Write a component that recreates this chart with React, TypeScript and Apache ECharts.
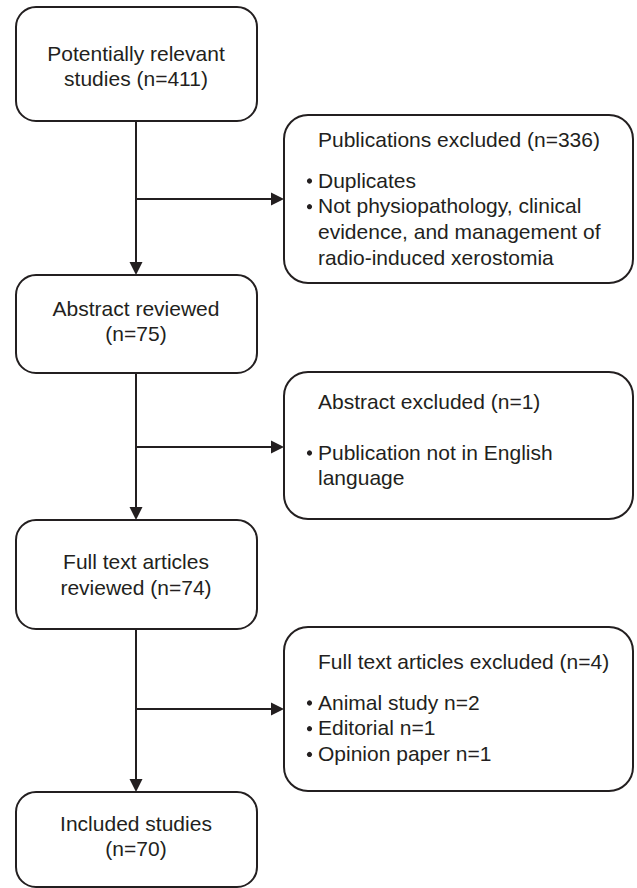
import React, { useEffect, useRef } from "react";
import * as echarts from "echarts";

// ---- content ----
const stepLines: string[][] = [
  ["Potentially relevant", "studies (n=411)"],
  ["Abstract reviewed", "(n=75)"],
  ["Full text articles", "reviewed (n=74)"],
  ["Included studies", "(n=70)"],
];

const exclusionTitles: string[] = [
  "Publications excluded (n=336)",
  "Abstract excluded (n=1)",
  "Full text articles excluded (n=4)",
];

const exclusionBullets: string[][][] = [
  [["Duplicates"], ["Not physiopathology, clinical", "evidence, and management of", "radio-induced xerostomia"]],
  [["Publication not in English", "language"]],
  [["Animal study n=2"], ["Editorial n=1"], ["Opinion paper n=1"]],
];

// ---- layout ----
const INK = "#231f20";
const FONT = "21px 'Liberation Sans', Arial, sans-serif";
const LEFT_X = 16;
const LEFT_W = 241;
const MID_X = 136;
const RIGHT_X = 284;
const RIGHT_W = 349;
const leftBoxes = [
  { y0: 7, y1: 121, lineY: [53, 78] },
  { y0: 275, y1: 373, lineY: [308, 333] },
  { y0: 520, y1: 629, lineY: [561, 587] },
  { y0: 792, y1: 887, lineY: [823, 848] },
];
const rightBoxes = [
  { y0: 115, y1: 283, titleY: 139, firstY: 180, arrowY: 199 },
  { y0: 372, y1: 519, titleY: 401, firstY: 452, arrowY: 447 },
  { y0: 627, y1: 791, titleY: 661, firstY: 702, arrowY: 709 },
];
const LINE_H = 25.7;

function buildGraphics() {
  const els: any[] = [];
  // connectors
  for (let i = 0; i < leftBoxes.length - 1; i++) {
    const from = leftBoxes[i].y1;
    const to = leftBoxes[i + 1].y0;
    els.push({ type: "line", shape: { x1: MID_X, y1: from, x2: MID_X, y2: to - 10 }, style: { stroke: INK, lineWidth: 2 } });
    els.push({
      type: "polygon",
      shape: { points: [[MID_X - 6.5, to - 13], [MID_X + 6.5, to - 13], [MID_X, to]] },
      style: { fill: INK },
    });
  }
  rightBoxes.forEach((rb) => {
    els.push({ type: "line", shape: { x1: MID_X, y1: rb.arrowY, x2: RIGHT_X - 10, y2: rb.arrowY }, style: { stroke: INK, lineWidth: 2 } });
    els.push({
      type: "polygon",
      shape: { points: [[RIGHT_X - 13, rb.arrowY - 6.5], [RIGHT_X - 13, rb.arrowY + 6.5], [RIGHT_X, rb.arrowY]] },
      style: { fill: INK },
    });
  });
  // left boxes
  leftBoxes.forEach((b, i) => {
    els.push({
      type: "rect",
      shape: { x: LEFT_X, y: b.y0, width: LEFT_W, height: b.y1 - b.y0, r: 20 },
      style: { fill: "#fff", stroke: INK, lineWidth: 2 },
    });
    stepLines[i].forEach((t, j) => {
      els.push({
        type: "text",
        x: MID_X,
        y: b.lineY[j],
        style: { text: t, font: FONT, fill: INK, textAlign: "center", textVerticalAlign: "middle" },
      });
    });
  });
  // right boxes
  rightBoxes.forEach((b, i) => {
    els.push({
      type: "rect",
      shape: { x: RIGHT_X, y: b.y0, width: RIGHT_W, height: b.y1 - b.y0, r: 24 },
      style: { fill: "#fff", stroke: INK, lineWidth: 2 },
    });
    els.push({
      type: "text",
      x: 318,
      y: b.titleY,
      style: { text: exclusionTitles[i], font: FONT, fill: INK, textAlign: "left", textVerticalAlign: "middle" },
    });
    let y = b.firstY;
    exclusionBullets[i].forEach((item) => {
      els.push({ type: "circle", shape: { cx: 309.5, cy: y + 1, r: 2.6 }, style: { fill: INK } });
      item.forEach((line) => {
        els.push({
          type: "text",
          x: 318,
          y,
          style: { text: line, font: FONT, fill: INK, textAlign: "left", textVerticalAlign: "middle" },
        });
        y += LINE_H;
      });
    });
  });
  return els;
}

export default function App() {
  const ref = useRef<HTMLDivElement>(null);
  useEffect(() => {
    if (!ref.current) return;
    const chart = echarts.init(ref.current, null, { renderer: "svg" });
    chart.setOption({
      animation: false,
      backgroundColor: "#ffffff",
      graphic: { elements: buildGraphics() },
    });
    return () => chart.dispose();
  }, []);
  return (
    <div
      ref={ref}
      style={{ position: "fixed", left: 0, top: 0, width: 637, height: 888, background: "#fff" }}
    />
  );
}
